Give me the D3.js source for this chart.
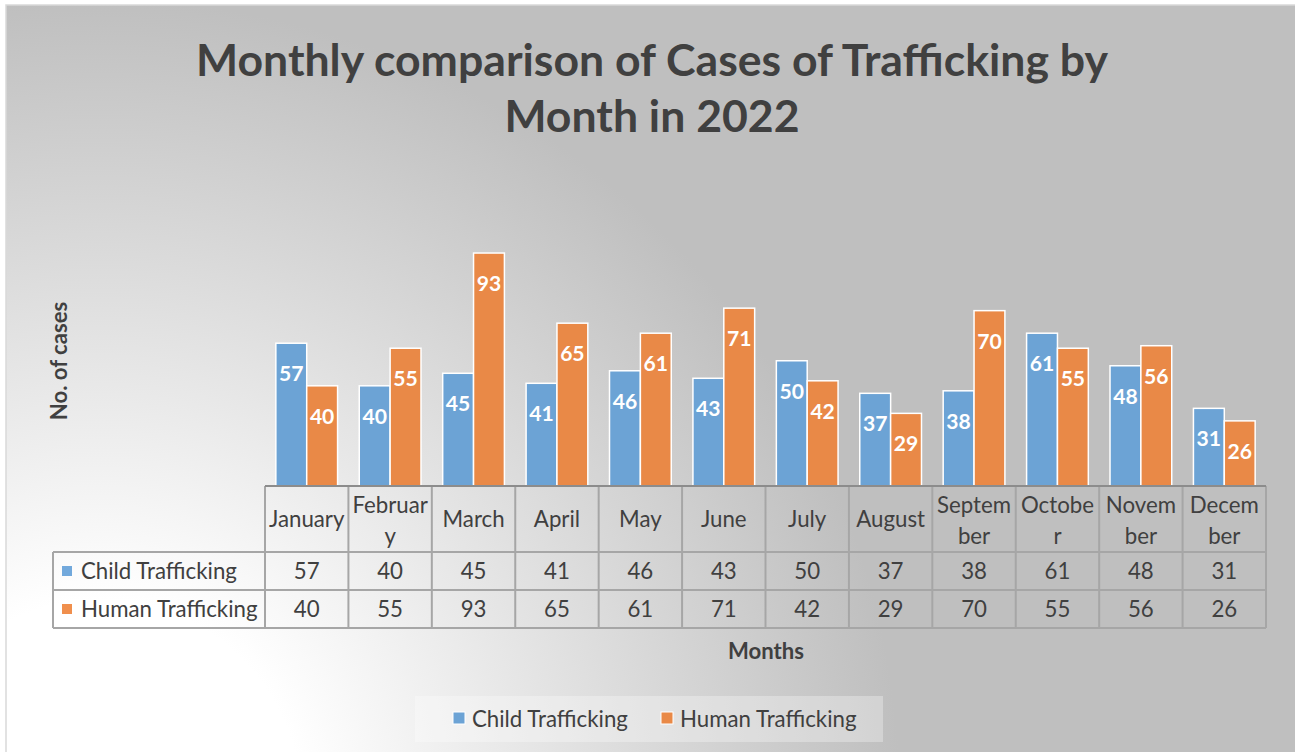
<!DOCTYPE html>
<html>
<head>
<meta charset="utf-8">
<script src="https://cdn.jsdelivr.net/npm/d3@7"></script>
<style>
  body { margin: 0; background: #fff; }
  svg { display: block; font-family: Lato, "Open Sans", sans-serif; }
</style>
</head>
<body>
<div id="chart"></div>
<script>
const months = ['January', 'February', 'March', 'April', 'May', 'June', 'July', 'August', 'September', 'October', 'November', 'December'];
// how the month names wrap in the data table header
const monthLines = [['January'], ['Februar', 'y'], ['March'], ['April'], ['May'], ['June'], ['July'], ['August'], ['Septem', 'ber'], ['Octobe', 'r'], ['Novem', 'ber'], ['Decem', 'ber']];
const seriesNames = ['Child Trafficking', 'Human Trafficking'];
const child = [57, 40, 45, 41, 46, 43, 50, 37, 38, 61, 48, 31];
const human = [40, 55, 93, 65, 61, 71, 42, 29, 70, 55, 56, 26];
const colors = ['#6ca3d5', '#e98947'];
const keyColors = ['#72a9dc', '#f08f4d'];

const W = 1295, H = 752;
const textCol = '#404040';
const lineCol = '#a6a6a6';

const svg = d3.select('#chart').append('svg').attr('width', W).attr('height', H);

// background radial gradient, light at bottom left
const grad = svg.append('defs').append('radialGradient')
    .attr('id', 'bg')
    .attr('gradientUnits', 'userSpaceOnUse')
    .attr('cx', 100).attr('cy', 800).attr('r', 800);
grad.append('stop').attr('offset', 0.25).attr('stop-color', '#ffffff');
grad.append('stop').attr('offset', 1).attr('stop-color', '#bfbfbf');

svg.append('rect')
    .attr('x', 6).attr('y', 5).attr('width', W + 10).attr('height', H + 10)
    .attr('fill', 'url(#bg)')
    .attr('stroke', '#d9d9d9').attr('stroke-width', 1.5);

// pick a font size so that text fits the width
function fitSize(text, weight, width) {
  const t = svg.append('text').attr('font-size', 100).attr('font-weight', weight).text(text);
  const w = t.node().getComputedTextLength();
  t.remove();
  return 100 * width / w;
}

const titleSize = fitSize('Monthly comparison of Cases of Trafficking by', 'bold', 912);
const cellSize = fitSize('Child Trafficking', 'normal', 156);
const labelSize = fitSize('57', 'bold', 24.5);
const axisTitleSize = fitSize('Months', 'bold', 76);

// title
svg.append('text')
    .attr('x', 652).attr('y', 76)
    .attr('text-anchor', 'middle')
    .attr('font-size', titleSize).attr('font-weight', 'bold')
    .attr('fill', textCol)
    .text('Monthly comparison of Cases of Trafficking by');
svg.append('text')
    .attr('x', 652).attr('y', 132)
    .attr('text-anchor', 'middle')
    .attr('font-size', titleSize).attr('font-weight', 'bold')
    .attr('fill', textCol)
    .text('Month in 2022');

// scales
const left = 265, right = 1266, base = 486;
const x0 = d3.scaleBand().domain(months).range([left, right]);
const bw = x0.bandwidth();
const gap = bw * 0.26;
const x1 = d3.scaleBand().domain(seriesNames).range([gap / 2, bw - gap / 2]);
const y = d3.scaleLinear().domain([0, 100]).range([base, base - 250.5]);

const rows = months.map((m, i) => ({month: m, values: [child[i], human[i]]}));

const groups = svg.selectAll('g.month')
    .data(rows)
    .join('g')
    .attr('class', 'month')
    .attr('transform', d => `translate(${x0(d.month)},0)`);

groups.selectAll('rect')
    .data(d => d.values.map((v, k) => ({name: seriesNames[k], v: v, k: k})))
    .join('rect')
    .attr('x', d => x1(d.name))
    .attr('y', d => y(d.v))
    .attr('width', x1.bandwidth())
    .attr('height', d => base - y(d.v))
    .attr('fill', d => colors[d.k])
    .attr('stroke', '#fff')
    .attr('stroke-width', 1.5);

groups.selectAll('text.lbl')
    .data(d => d.values.map((v, k) => ({name: seriesNames[k], v: v, k: k})))
    .join('text')
    .attr('class', 'lbl')
    .attr('x', d => x1(d.name) + x1.bandwidth() / 2)
    .attr('y', d => y(d.v) + 38)
    .attr('text-anchor', 'middle')
    .attr('font-size', labelSize).attr('font-weight', 'bold')
    .attr('fill', '#fff')
    .text(d => d.v);

// data table
const headTop = base, headBot = 552, row1 = 590, row2 = 628, tableLeft = 53;
const tbl = svg.append('g').attr('stroke', lineCol).attr('stroke-width', 2);
const edges = months.map(m => x0(m)).concat([right]);
tbl.selectAll('line.v')
    .data(edges)
    .join('line')
    .attr('x1', d => d).attr('x2', d => d)
    .attr('y1', headTop).attr('y2', row2);
tbl.append('line').attr('x1', tableLeft).attr('x2', tableLeft).attr('y1', headBot).attr('y2', row2);
[headBot, row1, row2].forEach(yy => {
  tbl.append('line').attr('x1', tableLeft).attr('x2', right).attr('y1', yy).attr('y2', yy);
});
// axis line
svg.append('line')
    .attr('x1', left).attr('x2', right).attr('y1', base).attr('y2', base)
    .attr('stroke', '#8c8c8c').attr('stroke-width', 2);

// header month names
const heads = svg.selectAll('text.head')
    .data(months)
    .join('text')
    .attr('class', 'head')
    .attr('text-anchor', 'middle')
    .attr('font-size', cellSize)
    .attr('fill', textCol);
heads.each(function (m, i) {
  const lines = monthLines[i];
  const cx = x0(m) + bw / 2;
  const first = lines.length === 1 ? 527 : 513;
  d3.select(this).selectAll('tspan')
      .data(lines)
      .join('tspan')
      .attr('x', cx)
      .attr('y', (d, j) => first + j * 31)
      .text(d => d);
});

// value rows
[child, human].forEach((vals, k) => {
  const yy = k === 0 ? 579 : 617;
  svg.selectAll('text.val' + k)
      .data(vals)
      .join('text')
      .attr('class', 'val' + k)
      .attr('x', (d, i) => x0(months[i]) + bw / 2)
      .attr('y', yy)
      .attr('text-anchor', 'middle')
      .attr('font-size', cellSize)
      .attr('fill', textCol)
      .text(d => d);
  svg.append('rect')
      .attr('x', 62).attr('y', yy - 13)
      .attr('width', 10).attr('height', 10)
      .attr('fill', keyColors[k]);
  svg.append('text')
      .attr('x', 81).attr('y', yy)
      .attr('font-size', cellSize)
      .attr('fill', textCol)
      .text(seriesNames[k]);
});

// axis titles
svg.append('text')
    .attr('x', 766).attr('y', 659)
    .attr('text-anchor', 'middle')
    .attr('font-size', axisTitleSize).attr('font-weight', 'bold')
    .attr('fill', textCol)
    .text('Months');
svg.append('text')
    .attr('transform', 'translate(67,361) rotate(-90)')
    .attr('text-anchor', 'middle')
    .attr('font-size', axisTitleSize).attr('font-weight', 'bold')
    .attr('fill', textCol)
    .text('No. of cases');

// legend
svg.append('rect')
    .attr('x', 415).attr('y', 696).attr('width', 468).attr('height', 46)
    .attr('fill', '#fff').attr('fill-opacity', 0.3);
const legX = [453, 661];
seriesNames.forEach((s, k) => {
  svg.append('rect')
      .attr('x', legX[k]).attr('y', 712)
      .attr('width', 12).attr('height', 12)
      .attr('fill', colors[k]).attr('stroke', '#fff').attr('stroke-width', 1);
  svg.append('text')
      .attr('x', legX[k] + 19).attr('y', 727)
      .attr('font-size', cellSize)
      .attr('fill', textCol)
      .text(s);
});
</script>
</body>
</html>
